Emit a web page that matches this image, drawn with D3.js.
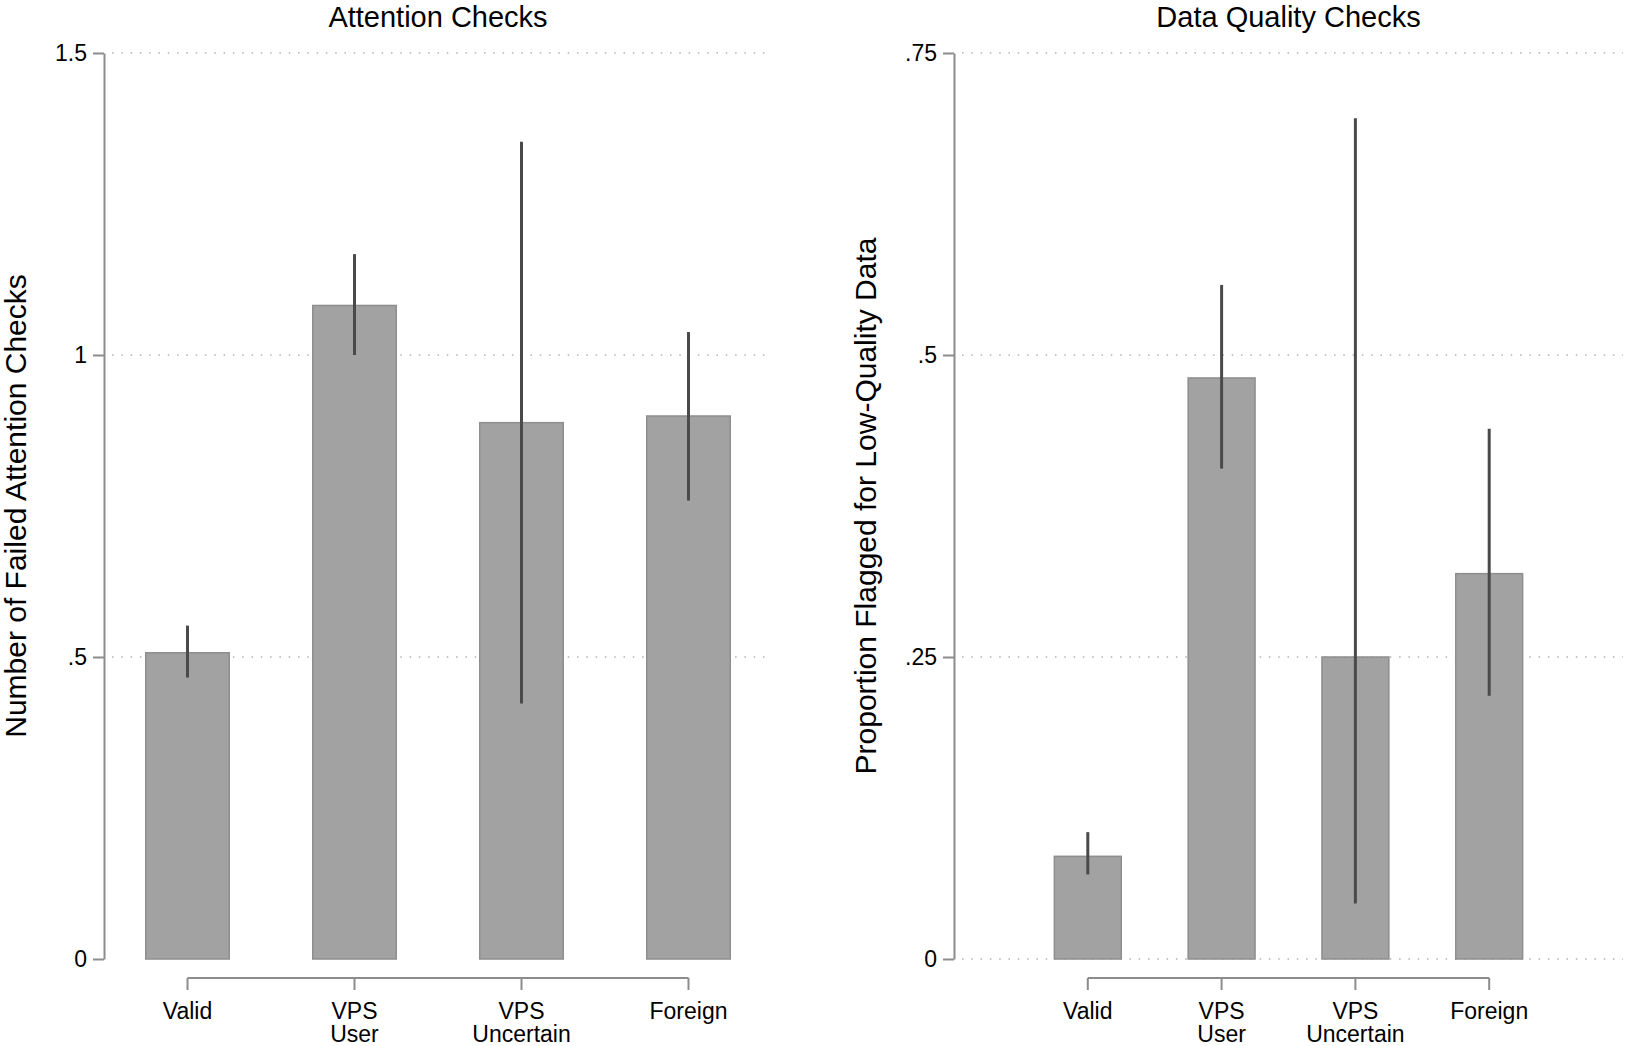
<!DOCTYPE html>
<html>
<head>
<meta charset="utf-8">
<script src="https://cdn.jsdelivr.net/npm/d3@7"></script>
<style>
  body { margin: 0; background: #fff; }
  text { font-family: "Liberation Sans", Arial, sans-serif; fill: #000; }
</style>
</head>
<body>
<div class="chart"></div>
<script>
// categories (multi-line labels)
var categories = ["Valid", "VPS User", "VPS Uncertain", "Foreign"];
var categoryLines = [["Valid"], ["VPS", "User"], ["VPS", "Uncertain"], ["Foreign"]];

// Attention checks: mean and 95% CI
var attnMean = [0.507, 1.082, 0.888, 0.899];
var attnLow  = [0.466, 1.000, 0.423, 0.759];
var attnHigh = [0.552, 1.167, 1.353, 1.038];
var attnTicks = [0, 0.5, 1, 1.5];
var attnTickLabels = ["0", ".5", "1", "1.5"];

// Data quality checks: proportion flagged and 95% CI
var qualMean = [0.085, 0.481, 0.250, 0.319];
var qualLow  = [0.070, 0.406, 0.046, 0.218];
var qualHigh = [0.105, 0.558, 0.696, 0.439];
var qualTicks = [0, 0.25, 0.5, 0.75];
var qualTickLabels = ["0", ".25", ".5", ".75"];

var svgWidth = 1625;
var svgHeight = 1046;

var svg = d3.select(".chart")
  .append("svg")
  .attr("width", svgWidth)
  .attr("height", svgHeight);

var yTop = 53;
var yBottom = 959;

function drawPanel(opt) {
  var g = svg.append("g");

  var yScale = d3.scaleLinear()
    .domain([0, opt.yMax])
    .range([yBottom, yTop]);

  var xScale = d3.scaleBand()
    .domain(categories)
    .range([opt.x0, opt.x1])
    .paddingInner(0.5)
    .paddingOuter(opt.padOuter);

  // dotted grid lines (drawn first so the bars cover them)
  g.selectAll(".grid")
    .data(opt.ticks.filter(function(t) { return opt.gridZero || t !== 0; }))
    .enter()
    .append("line")
    .attr("x1", opt.x0 + 8)
    .attr("x2", opt.x1)
    .attr("y1", function(d) { return yScale(d); })
    .attr("y2", function(d) { return yScale(d); })
    .attr("stroke", "#c4c4c4")
    .attr("stroke-width", 2)
    .attr("stroke-dasharray", "1.5,7.8");

  // y axis
  var leftAxis = d3.axisLeft(yScale)
    .tickValues(opt.ticks)
    .tickFormat(function(d, i) { return opt.tickLabels[i]; })
    .tickSize(11)
    .tickPadding(6)
    .tickSizeOuter(0);

  var yAxis = g.append("g")
    .attr("transform", "translate(" + opt.x0 + ",0)")
    .call(leftAxis);
  yAxis.select(".domain").attr("stroke", "#8c8c8c").attr("stroke-width", 2);
  yAxis.selectAll(".tick line").attr("stroke", "#8c8c8c").attr("stroke-width", 2);
  yAxis.selectAll(".tick text")
    .style("font-family", "'Liberation Sans', Arial, sans-serif")
    .style("font-size", "23px")
    .attr("fill", "#000");

  // bars
  g.selectAll(".bar")
    .data(opt.mean)
    .enter()
    .append("rect")
    .attr("x", function(d, i) { return xScale(categories[i]); })
    .attr("y", function(d) { return yScale(d); })
    .attr("width", xScale.bandwidth())
    .attr("height", function(d) { return yScale(0) - yScale(d); })
    .attr("fill", "#a2a2a2")
    .attr("stroke", "#8e8e8e")
    .attr("stroke-width", 1.5);

  // error bars
  g.selectAll(".err")
    .data(opt.mean)
    .enter()
    .append("line")
    .attr("x1", function(d, i) { return xScale(categories[i]) + xScale.bandwidth() / 2; })
    .attr("x2", function(d, i) { return xScale(categories[i]) + xScale.bandwidth() / 2; })
    .attr("y1", function(d, i) { return yScale(opt.low[i]); })
    .attr("y2", function(d, i) { return yScale(opt.high[i]); })
    .attr("stroke", "#4a4a4a")
    .attr("stroke-width", 3);

  // x axis bracket
  var centers = categories.map(function(c) { return xScale(c) + xScale.bandwidth() / 2; });
  var bracketY = 978;
  g.append("line")
    .attr("x1", centers[0])
    .attr("x2", centers[centers.length - 1])
    .attr("y1", bracketY)
    .attr("y2", bracketY)
    .attr("stroke", "#8c8c8c")
    .attr("stroke-width", 2);
  g.selectAll(".xtick")
    .data(centers)
    .enter()
    .append("line")
    .attr("x1", function(d) { return d; })
    .attr("x2", function(d) { return d; })
    .attr("y1", bracketY)
    .attr("y2", bracketY + 12)
    .attr("stroke", "#8c8c8c")
    .attr("stroke-width", 2);

  // category labels
  var labels = g.selectAll(".xlabel")
    .data(categoryLines)
    .enter()
    .append("text")
    .attr("text-anchor", "middle")
    .style("font-size", "23px")
    .attr("transform", function(d, i) { return "translate(" + centers[i] + ",1019)"; });
  labels.selectAll("tspan")
    .data(function(d) { return d; })
    .enter()
    .append("tspan")
    .attr("x", 0)
    .attr("dy", function(d, i) { return i === 0 ? 0 : 23; })
    .text(function(d) { return d; });

  // panel title
  g.append("text")
    .attr("x", (opt.x0 + opt.x1) / 2)
    .attr("y", 26.5)
    .attr("text-anchor", "middle")
    .style("font-size", "29px")
    .text(opt.title);

  // y axis title
  g.append("text")
    .attr("transform", "translate(" + opt.yTitleX + "," + ((yTop + yBottom) / 2) + ") rotate(-90)")
    .attr("text-anchor", "middle")
    .style("font-size", "30px")
    .text(opt.yTitle);
}

drawPanel({
  title: "Attention Checks",
  yTitle: "Number of Failed Attention Checks",
  mean: attnMean, low: attnLow, high: attnHigh,
  ticks: attnTicks, tickLabels: attnTickLabels,
  yMax: 1.5,
  x0: 104, x1: 772, padOuter: 0.25,
  gridZero: false,
  yTitleX: 26
});

drawPanel({
  title: "Data Quality Checks",
  yTitle: "Proportion Flagged for Low-Quality Data",
  mean: qualMean, low: qualLow, high: qualHigh,
  ticks: qualTicks, tickLabels: qualTickLabels,
  yMax: 0.75,
  x0: 954, x1: 1623, padOuter: 0.75,
  gridZero: true,
  yTitleX: 876
});
</script>
</body>
</html>
